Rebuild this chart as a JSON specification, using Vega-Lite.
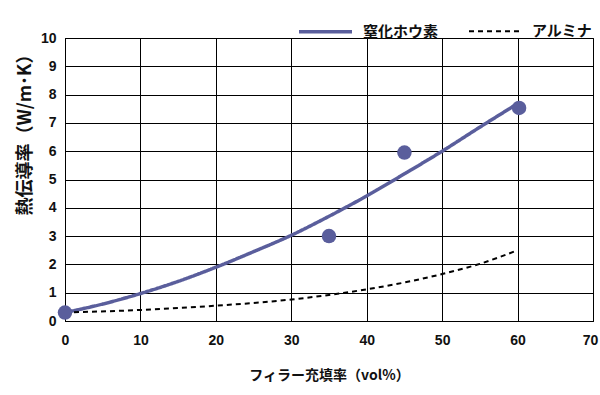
{
  "$schema": "https://vega.github.io/schema/vega-lite/v6.json",
  "width": 528,
  "height": 283,
  "autosize": "none",
  "padding": {"left": 65, "top": 38, "right": 7, "bottom": 74},
  "background": "white",
  "config": {
    "view": {"stroke": "#000", "strokeWidth": 1},
    "axis": {
      "labelFont": "Liberation Sans",
      "labelFontWeight": "bold",
      "labelFontSize": 14,
      "labelColor": "#111",
      "labelOverlap": false,
      "labelFlush": false,
      "titleFont": "Noto Sans CJK JP",
      "titleFontWeight": "bold",
      "titleColor": "#111",
      "gridColor": "#000",
      "gridOpacity": 1,
      "gridWidth": 1,
      "domainColor": "#000",
      "ticks": false,
      "tickSize": 0
    }
  },
  "datasets": {
    "curves": [
      {"filler": 0, "k": 0.3, "series": "窒化ホウ素"},
      {"filler": 5, "k": 0.6, "series": "窒化ホウ素"},
      {"filler": 10, "k": 0.97, "series": "窒化ホウ素"},
      {"filler": 15, "k": 1.4, "series": "窒化ホウ素"},
      {"filler": 20, "k": 1.9, "series": "窒化ホウ素"},
      {"filler": 25, "k": 2.45, "series": "窒化ホウ素"},
      {"filler": 30, "k": 3.03, "series": "窒化ホウ素"},
      {"filler": 35, "k": 3.7, "series": "窒化ホウ素"},
      {"filler": 40, "k": 4.42, "series": "窒化ホウ素"},
      {"filler": 45, "k": 5.2, "series": "窒化ホウ素"},
      {"filler": 50, "k": 6.0, "series": "窒化ホウ素"},
      {"filler": 55, "k": 6.85, "series": "窒化ホウ素"},
      {"filler": 60, "k": 7.68, "series": "窒化ホウ素"},
      {"filler": 0, "k": 0.3, "series": "アルミナ"},
      {"filler": 10, "k": 0.39, "series": "アルミナ"},
      {"filler": 20, "k": 0.54, "series": "アルミナ"},
      {"filler": 30, "k": 0.76, "series": "アルミナ"},
      {"filler": 35, "k": 0.92, "series": "アルミナ"},
      {"filler": 40, "k": 1.12, "series": "アルミナ"},
      {"filler": 45, "k": 1.36, "series": "アルミナ"},
      {"filler": 50, "k": 1.66, "series": "アルミナ"},
      {"filler": 55, "k": 2.02, "series": "アルミナ"},
      {"filler": 60, "k": 2.5, "series": "アルミナ"}
    ],
    "points": [
      {"filler": 0, "k": 0.3},
      {"filler": 35, "k": 3.0},
      {"filler": 45, "k": 5.95},
      {"filler": 60.2, "k": 7.53}
    ]
  },
  "encoding": {
    "x": {
      "field": "filler", "type": "quantitative",
      "scale": {"domain": [0, 70], "nice": false},
      "axis": {
        "values": [0, 10, 20, 30, 40, 50, 60, 70],
        "labelPadding": 12,
        "labelOffset": {"condition": {"test": "datum.value === 70", "value": -3}, "value": 0},
        "title": "フィラー充填率（vol%）",
        "titleFontSize": 14,
        "titleY": 54,
        "titleBaseline": "middle"
      }
    },
    "y": {
      "field": "k", "type": "quantitative",
      "scale": {"domain": [0, 10], "nice": false},
      "axis": {
        "values": [0, 1, 2, 3, 4, 5, 6, 7, 8, 9, 10],
        "labelPadding": 9,
        "title": "熱伝導率（W/m･K）",
        "titleFontSize": 18,
        "titleX": -40,
        "titleY": 92,
        "titleAngle": -90,
        "titleAlign": "center",
        "titleBaseline": "middle"
      }
    }
  },
  "layer": [
    {
      "data": {"name": "curves"},
      "mark": {"type": "line", "interpolate": "monotone"},
      "encoding": {
        "color": {
          "field": "series", "type": "nominal",
          "scale": {"domain": ["窒化ホウ素", "アルミナ"], "range": ["#5a5e9c", "#000000"]},
          "legend": {
            "orient": "none",
            "legendX": 232,
            "legendY": -35,
            "direction": "horizontal",
            "title": null,
            "symbolType": "stroke",
            "symbolSize": 2809,
            "labelFont": "Noto Sans CJK JP",
            "labelFontWeight": "bold",
            "labelFontSize": 15,
            "labelColor": "#111",
            "labelOffset": 9,
            "columnPadding": 26
          }
        },
        "strokeDash": {
          "field": "series", "type": "nominal",
          "scale": {"domain": ["窒化ホウ素", "アルミナ"], "range": [[1, 0], [5, 4]]}
        },
        "strokeWidth": {
          "field": "series", "type": "nominal",
          "scale": {"domain": ["窒化ホウ素", "アルミナ"], "range": [3.5, 2]}
        }
      }
    },
    {
      "data": {"name": "points"},
      "mark": {"type": "circle", "size": 210, "color": "#5a5e9c", "opacity": 1}
    }
  ]
}
